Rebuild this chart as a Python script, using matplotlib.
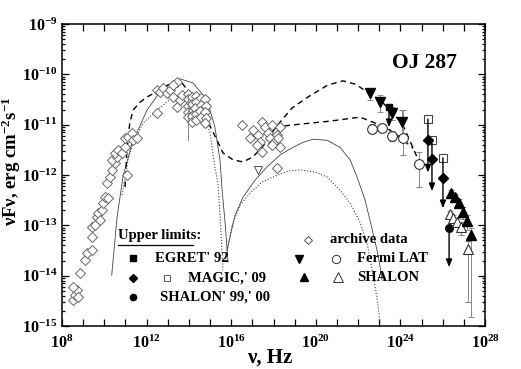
import numpy as np
import matplotlib
matplotlib.use("Agg")
import matplotlib.pyplot as plt
from matplotlib.ticker import NullFormatter, LogLocator

plt.rcParams['font.family'] = ['Liberation Serif', 'DejaVu Serif']
plt.rcParams['font.weight'] = 'bold'
plt.rcParams['mathtext.fontset'] = 'custom'
plt.rcParams['mathtext.rm'] = 'Liberation Serif:bold'
plt.rcParams['mathtext.it'] = 'Liberation Serif:bold'
plt.rcParams['mathtext.bf'] = 'Liberation Serif:bold'
plt.rcParams['mathtext.default'] = 'rm'

# ---- model curves (log10 nu, log10 nuFnu) ----
# solid: synchrotron + IC, model 1
sol_syn_x = [10.35, 10.60, 10.88, 11.31, 12.02, 12.63, 13.20, 13.58, 14.19, 14.86, 15.23, 15.47, 15.57, 15.72, 15.85]
sol_syn_y = [-13.99, -12.85, -12.04, -11.37, -10.71, -10.35, -10.16, -10.09, -10.17, -10.51, -11.05, -11.70, -12.30, -13.00, -13.73]
sol_ic_x = [15.80, 16.18, 16.56, 17.13, 17.69, 18.31, 18.92, 19.40, 19.87, 20.53, 21.14, 21.62, 21.95, 22.33, 22.56, 22.89, 23.04, 23.13]
sol_ic_y = [-13.49, -12.80, -12.44, -12.10, -11.84, -11.60, -11.45, -11.35, -11.29, -11.31, -11.45, -11.70, -12.04, -12.50, -12.90, -13.49, -13.83, -14.09]
# dotted: model 2
dot_syn_x = [10.84, 11.12, 11.36, 11.83, 12.49, 13.25, 13.91, 14.52, 15.00, 15.23, 15.38, 15.50, 15.61]
dot_syn_y = [-12.40, -11.70, -11.37, -10.97, -10.71, -10.45, -10.37, -10.57, -11.17, -11.84, -12.20, -13.00, -13.89]
dot_ic_x = [15.71, 16.04, 16.42, 16.89, 17.46, 17.98, 18.69, 19.25, 19.96, 20.53, 21.14, 21.62, 22.09, 22.42, 22.66, 22.89, 23.04]
dot_ic_y = [-13.73, -13.00, -12.60, -12.36, -12.14, -12.04, -11.92, -11.90, -11.94, -12.04, -12.30, -12.56, -12.94, -13.35, -13.89, -14.43, -14.94]
# dashed: total models
dash1_x = [10.98, 11.07, 11.20, 11.36, 11.70, 12.02, 12.63, 13.25, 13.67, 14.19, 14.86, 15.33, 15.61, 16.09, 16.56, 17.03,
           17.60, 18.07, 18.87, 19.63, 20.58, 21.29, 21.90, 22.42, 23.04, 23.65, 24.12, 24.78]
dash1_y = [-12.24, -11.50, -10.98, -10.71, -10.55, -10.45, -10.31, -10.15, -10.17, -10.45, -10.91, -11.31, -11.56, -11.70, -11.74, -11.64,
           -11.38, -11.07, -10.67, -10.45, -10.21, -10.13, -10.20, -10.35, -10.51, -10.77, -11.01, -11.64]
dash2_x = [18.07, 18.60, 19.25, 20.67, 22.09, 22.70, 23.37, 23.98, 24.60]
dash2_y = [-11.07, -11.02, -10.99, -10.93, -10.85, -10.95, -11.07, -11.25, -11.47]

# ---- archive data (open diamonds) ----
arch_x = [8.52, 8.61, 8.71, 8.52, 8.76, 8.85, 9.09, 9.18, 9.42, 9.42, 9.42, 9.56, 9.65, 9.70, 9.89, 9.80,
          9.94, 10.03, 10.17, 10.13, 10.27, 10.36, 10.51, 10.36, 10.60, 10.51, 10.65, 10.84, 10.98, 11.07,
          10.98, 11.12, 11.31, 11.36, 11.55,
          12.49, 12.63, 12.78, 12.49, 12.96, 13.11, 13.25, 13.44, 13.44, 13.58, 13.25, 13.67,
          13.96, 13.94, 13.98, 13.95, 13.97, 14.15, 14.13, 14.17, 14.15, 14.14,
          14.33, 14.35, 14.31, 14.34, 14.32, 14.55, 14.57, 14.53, 14.56,
          14.78, 14.80, 14.76, 14.79, 14.77,
          16.51, 17.03, 17.46, 17.60, 17.93, 18.31, 17.27, 17.74, 18.17, 16.89, 17.36, 17.83, 18.21,
          17.22, 17.98, 18.31, 17.46, 17.93, 18.17]
arch_y = [-14.49, -14.39, -14.29, -14.23, -14.43, -13.95, -13.69, -13.55, -13.49, -13.23, -13.04, -13.00, -12.84, -12.76, -12.70, -12.90,
          -12.56, -12.44, -12.46, -12.16, -12.04, -11.90, -11.76, -11.70, -11.64, -11.56, -11.50, -11.56, -11.45, -12.00,
          -11.27, -11.25, -11.17, -11.31, -11.27,
          -10.31, -10.35, -10.27, -10.77, -10.37, -10.31, -10.45, -10.15, -10.65, -10.51, -10.21, -10.41,
          -10.40, -10.50, -10.62, -10.74, -10.85, -10.45, -10.58, -10.70, -10.82, -10.95,
          -10.43, -10.55, -10.66, -10.78, -10.90, -10.48, -10.60, -10.72, -10.84,
          -10.50, -10.62, -10.74, -10.86, -10.97,
          -11.01, -11.11, -10.95, -11.05, -11.01, -11.05, -11.21, -11.17, -11.21, -11.27, -11.35, -11.27, -11.27,
          -11.41, -11.37, -11.45, -11.54, -11.41, -11.86]
arch_err_x = [13.96]
arch_err_lo = [-11.31]
arch_err_hi = [-10.45]
shalon_lo_x = [17.27]  # open down triangle near 1e17
shalon_lo_y = [-11.90]

# ---- Fermi LAT ----
fermi_c_x = [22.66, 23.13, 23.60, 24.12, 24.88]
fermi_c_y = [-11.09, -11.07, -11.23, -11.27, -11.78]
fermi_c_lo = [-11.17, -11.13, -11.33, -11.61, -12.24]
fermi_c_hi = [-10.98, -10.99, -11.12, -10.71, -11.54]
fermi_t_x = [22.56, 23.04, 23.60, 24.08]
fermi_t_y = [-10.37, -10.55, -10.77, -10.95]
fermi_t_lo = [-10.51, -10.75, -10.90, -11.21]
fermi_t_hi = [-10.31, -10.41, -10.65, -10.71]

# ---- upper limits ----
egret_x = [23.46]
egret_y = [-10.65]
egret_end = [-11.05]
magic_sq_x = [25.30, 25.49, 26.01]
magic_sq_y = [-10.89, -11.31, -11.66]
magic_dia_y = [-11.31, -11.68, -12.06]
magic_end = [-11.95, -12.32, -12.66]
shalon_ul_x = [26.30]
shalon_ul_y = [-13.06]
shalon_ul_end = [-13.83]

# ---- SHALON ----
shalon_f_x = [26.39, 26.58, 26.77, 26.96, 27.15, 27.34]
shalon_f_y = [-12.36, -12.44, -12.56, -12.74, -12.92, -13.19]
shalon_f_lo = [-12.42, -12.52, -12.66, -12.88, -13.10, -14.82]
shalon_f_hi = [-12.30, -12.38, -12.48, -12.64, -12.80, -13.05]
shalon_o_x = [26.35, 26.49, 26.68, 26.87, 27.20]
shalon_o_y = [-12.78, -12.86, -12.94, -13.04, -13.47]
shalon_o_lo = [-12.86, -12.94, -13.04, -13.20, -14.52]
shalon_o_hi = [-12.72, -12.80, -12.86, -12.94, -13.32]

x_label_exp = [8, 12, 16, 20, 24, 28]
y_label_exp = [-15, -14, -13, -12, -11, -10, -9]


def p(a):
    return np.power(10.0, np.asarray(a))


fig = plt.figure(figsize=(5.21, 3.69), dpi=100)
ax = fig.add_axes([0.119, 0.1165, 0.812, 0.8185])
ax.set_xscale('log')
ax.set_yscale('log')
ax.set_xlim(1e8, 1e28)
ax.set_ylim(1e-15, 1e-9)

# curves
ax.plot(p(sol_syn_x), p(sol_syn_y), '-', color='#444444', lw=0.6)
ax.plot(p(sol_ic_x), p(sol_ic_y), '-', color='#444444', lw=0.6)
ax.plot(p(dot_syn_x), p(dot_syn_y), ':', color='#444444', lw=0.8)
ax.plot(p(dot_ic_x), p(dot_ic_y), ':', color='#444444', lw=0.8)
ax.plot(p(dash1_x), p(dash1_y), '--', color='black', lw=1.0, dashes=(4, 3))
ax.plot(p(dash2_x), p(dash2_y), '--', color='black', lw=1.0, dashes=(4, 3))

# archive data
ax.plot(p(arch_x), p(arch_y), 'D', ms=5.5, mfc='white', mec='#666666', mew=0.7, ls='none')
for x, lo, hi in zip(arch_err_x, arch_err_lo, arch_err_hi):
    ax.plot([p(x), p(x)], [p(lo), p(hi)], color='#888888', lw=0.7)
ax.plot(p(shalon_lo_x), p(shalon_lo_y), 'v', ms=6, mfc='white', mec='#555555', mew=0.7, ls='none')

err_kw = dict(ls='none', ecolor='#888888', elinewidth=0.7, capsize=2.5, capthick=0.7)
# Fermi
fy = p(fermi_c_y)
ax.errorbar(p(fermi_c_x), fy, yerr=[fy - p(fermi_c_lo), p(fermi_c_hi) - fy],
            fmt='o', ms=7, mfc='white', mec='#333333', mew=0.8, **err_kw)
ty = p(fermi_t_y)
ax.errorbar(p(fermi_t_x), ty, yerr=[ty - p(fermi_t_lo), p(fermi_t_hi) - ty],
            fmt='v', ms=6.5, mfc='black', mec='black', **err_kw)

# SHALON
sy = p(shalon_o_y)
ax.errorbar(p(shalon_o_x), sy, yerr=[sy - p(shalon_o_lo), p(shalon_o_hi) - sy],
            fmt='^', ms=7.5, mfc='white', mec='#333333', mew=0.8, **err_kw)
sy = p(shalon_f_y)
ax.errorbar(p(shalon_f_x), sy, yerr=[sy - p(shalon_f_lo), p(shalon_f_hi) - sy],
            fmt='^', ms=6.5, mfc='black', mec='black', **err_kw)

# upper limits with arrows
arr = dict(arrowstyle='-|>,head_length=0.45,head_width=0.18', color='black', lw=1.0, shrinkA=0, shrinkB=0)
for x, y, e in zip(egret_x, egret_y, egret_end):
    ax.annotate('', xy=(p(x), p(e)), xytext=(p(x), p(y)), arrowprops=arr)
ax.plot(p(egret_x), p(egret_y), 's', ms=5, color='black', ls='none')
for x, y, e in zip(magic_sq_x, magic_sq_y, magic_end):
    ax.annotate('', xy=(p(x), p(e)), xytext=(p(x), p(y)), arrowprops=arr)
ax.plot(p(magic_sq_x), p(magic_sq_y), 's', ms=5.5, mfc='white', mec='#444444', mew=0.8, ls='none')
ax.plot(p(magic_sq_x), p(magic_dia_y), 'D', ms=5.5, color='black', ls='none')
for x, y, e in zip(shalon_ul_x, shalon_ul_y, shalon_ul_end):
    ax.annotate('', xy=(p(x), p(e)), xytext=(p(x), p(y)), arrowprops=arr)
ax.plot(p(shalon_ul_x), p(shalon_ul_y), 'o', ms=5.5, color='black', ls='none')

# ticks
ax.set_xticks(p(x_label_exp))
ax.set_xticks([10.0 ** k for k in range(8, 29)], minor=True)
ax.set_xticklabels([r'$10^{%d}$' % k for k in x_label_exp])
ax.xaxis.set_minor_formatter(NullFormatter())
ax.set_yticks(p(y_label_exp))
ax.set_yticklabels([r'$10^{%d}$' % k for k in y_label_exp])
ax.yaxis.set_minor_locator(LogLocator(base=10, subs=np.arange(2, 10), numticks=20))
ax.yaxis.set_minor_formatter(NullFormatter())
ax.tick_params(which='both', direction='in', top=True, right=True, labelsize=11.5, width=0.9)
ax.tick_params(which='major', length=5)
ax.tick_params(axis='x', which='minor', length=5)
ax.tick_params(axis='y', which='minor', length=2.5)
ax.tick_params(axis='x', pad=6)
for s in ax.spines.values():
    s.set_linewidth(1.1)

ax.set_ylabel(r'νFν, erg cm$^{-2}$s$^{-1}$', fontsize=13.5, fontweight='bold')
ax.yaxis.set_label_coords(-0.092, 0.546)
ax.set_xlabel('ν, Hz', fontsize=15, fontweight='bold')
ax.xaxis.set_label_coords(0.49, -0.07)

ax.text(0.780, 0.871, 'OJ 287', transform=ax.transAxes, fontsize=15.5, fontweight='bold', va='center')

# legend block
T = ax.transAxes
lf = dict(transform=T, fontsize=10.5, fontweight='bold', va='center')
ax.text(0.132, 0.301, 'Upper limits:', **lf)
ax.plot([0.132, 0.310], [0.268, 0.268], color='black', lw=0.9, transform=T, clip_on=False)
ax.plot(0.168, 0.225, 's', ms=4.5, color='black', transform=T)
ax.text(0.220, 0.225, "EGRET' 92", **lf)
ax.plot(0.168, 0.159, 'D', ms=4.5, color='black', transform=T)
ax.plot(0.248, 0.159, 's', ms=4.5, mfc='white', mec='#555555', mew=0.7, transform=T)
ax.text(0.298, 0.159, "MAGIC,' 09", **lf)
ax.plot(0.168, 0.096, 'o', ms=4.5, color='black', transform=T)
ax.text(0.232, 0.096, "SHALON' 99,' 00", **lf)
ax.plot(0.582, 0.285, 'D', ms=4.5, mfc='white', mec='#555555', mew=0.7, transform=T)
ax.text(0.634, 0.285, 'archive data', **lf)
ax.plot(0.560, 0.222, 'v', ms=5.5, color='black', transform=T)
ax.plot(0.648, 0.222, 'o', ms=6, mfc='white', mec='#333333', mew=0.7, transform=T)
ax.text(0.697, 0.222, 'Fermi LAT', **lf)
ax.plot(0.572, 0.162, '^', ms=5.5, color='black', transform=T)
ax.plot(0.652, 0.162, '^', ms=7, mfc='white', mec='#333333', mew=0.7, transform=T)
ax.text(0.697, 0.162, 'SHALON', **lf)

fig.savefig('out.png', dpi=100)
